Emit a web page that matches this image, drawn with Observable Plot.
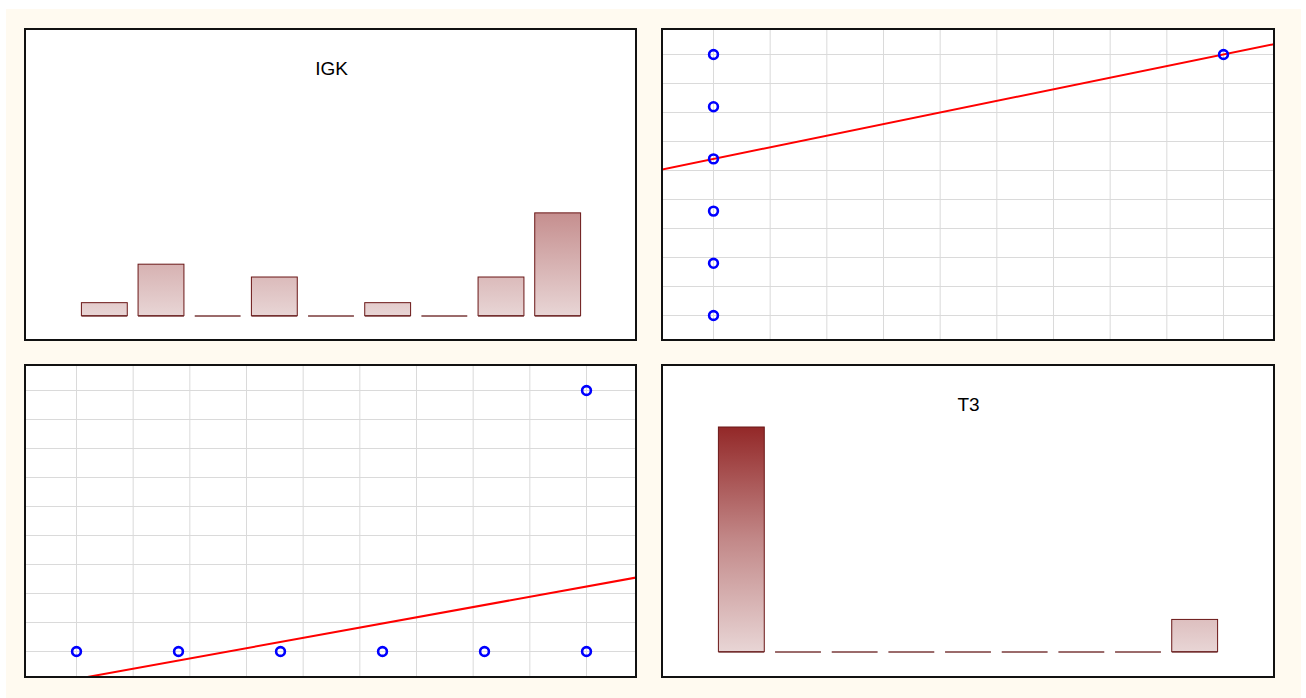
<!DOCTYPE html>
<html>
<head>
<meta charset="utf-8">
<script src="https://cdn.jsdelivr.net/npm/d3@7"></script>
<script src="https://cdn.jsdelivr.net/npm/@observablehq/plot@0.6"></script>
<style>
  html, body { margin: 0; padding: 0; background: #ffffff; width: 1306px; height: 698px; overflow: hidden; }
  #bg { position: absolute; left: 6px; top: 9px; width: 1295px; height: 689px; background: #fffaf0; }
  .panel { position: absolute; overflow: hidden; background: #ffffff; }
  .panel svg { display: block; }
  .border { position: absolute; left: 0; top: 0; right: 0; bottom: 0; border: 2px solid #111111; box-sizing: border-box; pointer-events: none; }
</style>
</head>
<body>
<div id="bg"></div>
<script>
// ---- data ----
const variables = ["IGK", "T3"];
// histogram counts, 9 equal bins over each variable's range
const igkRange = [0, 5];
const t3Range = [0, 1];
const igkHist = [2, 8, 0, 6, 0, 2, 0, 6, 16];
const t3Hist = [35, 0, 0, 0, 0, 0, 0, 0, 5];
// observed (IGK, T3) pairs with their multiplicity
const pairIGK = [0, 1, 2, 3, 4, 5, 5];
const pairT3 = [0, 0, 0, 0, 0, 0, 1];
const pairCount = [2, 8, 6, 2, 6, 11, 5];
const histMax = 35;
const gridCount = 10;

// ---- helpers ----
const ML = 52;

function panelBox(left, top, width, height) {
  const div = document.createElement("div");
  div.className = "panel";
  div.style.left = left + "px";
  div.style.top = top + "px";
  div.style.width = width + "px";
  div.style.height = height + "px";
  document.body.appendChild(div);
  return div;
}
function finish(div, svg) {
  div.appendChild(svg);
  const b = document.createElement("div");
  b.className = "border";
  div.appendChild(b);
}

function histPanel(title, counts, range, id, left, top, W, H) {
  const n = counts.length;
  const MR = W - 562;
  const bins = counts.map((c, i) => ({
    x1: range[0] + (range[1] - range[0]) * i / n,
    x2: range[0] + (range[1] - range[0]) * (i + 1) / n,
    count: c
  }));
  const gradId = "grad-" + id;
  const mTop = 63, mBottom = H - 287.5;
  const plot = Plot.plot({
    width: W, height: H,
    marginLeft: ML, marginRight: MR, marginTop: mTop, marginBottom: mBottom,
    x: {domain: range, axis: null},
    y: {domain: [0, histMax], axis: null},
    style: {background: "white", overflow: "visible", fontFamily: "'Liberation Sans', Arial, sans-serif"},
    marks: [
      Plot.rectY(bins.filter(d => d.count > 0), {
        x1: "x1", x2: "x2", y1: 0, y2: "count",
        fill: `url(#${gradId})`, stroke: "#6a1616", strokeWidth: 1,
        insetLeft: 5.4, insetRight: 5.4
      }),
      Plot.ruleY(bins, {
        x1: "x1", x2: "x2", y: 0, stroke: "#7a3a3a", strokeWidth: 1.3,
        insetLeft: 5.4, insetRight: 5.4
      }),
      Plot.text([title], {
        text: d => d, frameAnchor: "top", dy: -23, lineAnchor: "middle",
        fontSize: 19, fill: "#000000"
      })
    ]
  });
  const y = plot.scale("y");
  const ns = "http://www.w3.org/2000/svg";
  const defs = document.createElementNS(ns, "defs");
  const g = document.createElementNS(ns, "linearGradient");
  g.setAttribute("id", gradId);
  g.setAttribute("gradientUnits", "userSpaceOnUse");
  g.setAttribute("x1", 0); g.setAttribute("x2", 0);
  g.setAttribute("y1", y.apply(histMax));
  g.setAttribute("y2", y.apply(0));
  [["0", "#932828"], ["0.5", "#c28888"], ["1", "#e8d5d5"]].forEach(([o, c]) => {
    const s = document.createElementNS(ns, "stop");
    s.setAttribute("offset", o);
    s.setAttribute("stop-color", c);
    g.appendChild(s);
  });
  defs.appendChild(g);
  plot.insertBefore(defs, plot.firstChild);
  finish(panelBox(left, top, W, H), plot);
}

function scatterPanel(xs, ys, ws, xDom, yDom, left, top, W, H) {
  const MR = W - 562;
  const pts = xs.map((x, i) => ({x, y: ys[i], w: ws[i]}));
  // weighted least-squares fit of y on x
  const sw = d3.sum(pts, d => d.w);
  const mx = d3.sum(pts, d => d.w * d.x) / sw;
  const my = d3.sum(pts, d => d.w * d.y) / sw;
  const sxy = d3.sum(pts, d => d.w * (d.x - mx) * (d.y - my));
  const sxx = d3.sum(pts, d => d.w * (d.x - mx) ** 2);
  const slope = sxy / sxx, intercept = my - slope * mx;
  const span = xDom[1] - xDom[0];
  const inner = W - ML - MR;
  const xa = xDom[0] - (ML + 5) / inner * span;
  const xb = xDom[1] + (MR + 5) / inner * span;
  const fit = [xa, xb].map(x => ({x, y: intercept + slope * x}));
  const xTicks = d3.range(gridCount).map(i => xDom[0] + i * span / (gridCount - 1));
  const yTicks = d3.range(gridCount).map(i => yDom[0] + i * (yDom[1] - yDom[0]) / (gridCount - 1));
  const plot = Plot.plot({
    width: W, height: H,
    marginLeft: ML, marginRight: MR, marginTop: 26, marginBottom: H - 287,
    x: {domain: xDom, axis: null},
    y: {domain: yDom, axis: null},
    style: {background: "white", overflow: "visible"},
    marks: [
      Plot.ruleX(xTicks, {stroke: "#dadada", strokeWidth: 1, insetTop: -40, insetBottom: -40}),
      Plot.ruleY(yTicks, {stroke: "#dadada", strokeWidth: 1, insetLeft: -70, insetRight: -70}),
      Plot.line(fit, {x: "x", y: "y", stroke: "#ff0000", strokeWidth: 2}),
      Plot.dot(pts, {x: "x", y: "y", r: 4.4, stroke: "#0000ff", strokeWidth: 2.6, fill: "none"})
    ]
  });
  finish(panelBox(left, top, W, H), plot);
}

// ---- panels: pairs plot of IGK and T3 ----
histPanel(variables[0], igkHist, igkRange, "igk", 24, 28, 613, 313);
scatterPanel(pairT3, pairIGK, pairCount, t3Range, igkRange, 661, 28, 614, 313);
scatterPanel(pairIGK, pairT3, pairCount, igkRange, t3Range, 24, 364, 613, 314);
histPanel(variables[1], t3Hist, t3Range, "t3", 661, 364, 614, 314);
</script>
</body>
</html>
